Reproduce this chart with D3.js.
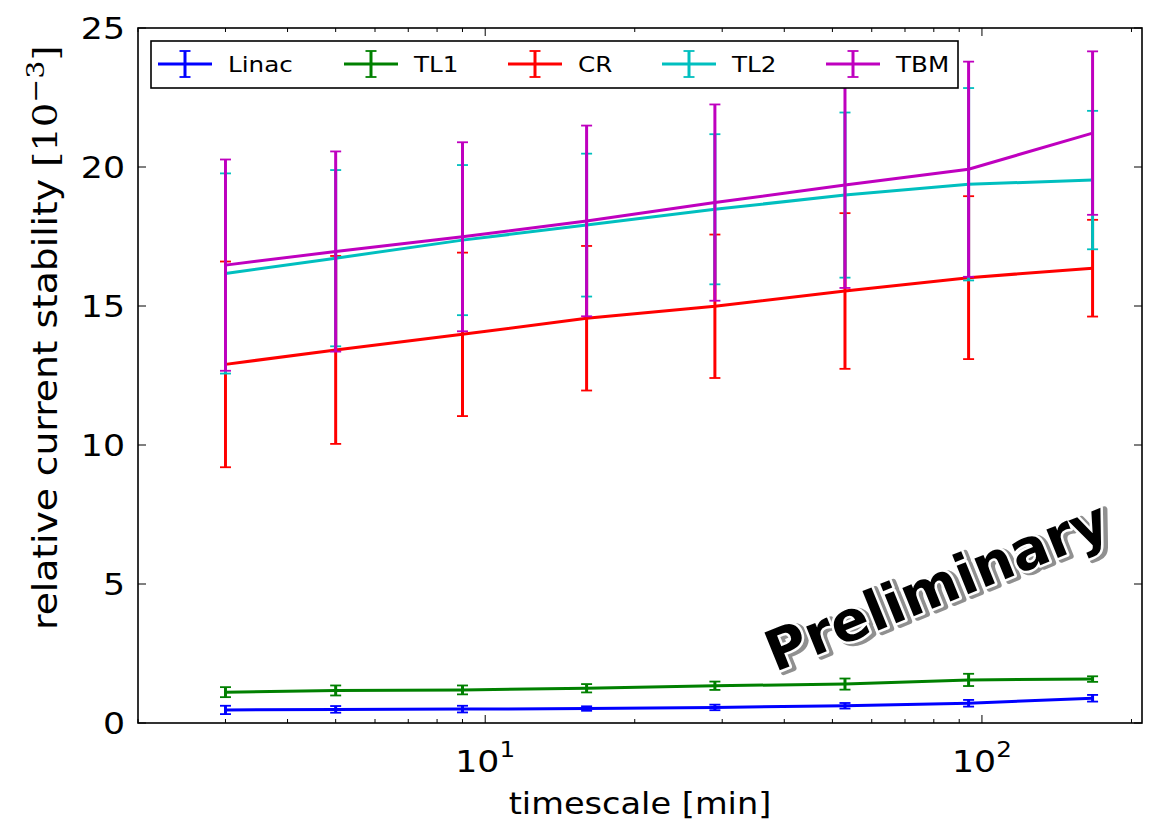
<!DOCTYPE html>
<html lang="en">
<head>
<meta charset="UTF-8">
<title>relative current stability</title>
<script src="https://cdn.jsdelivr.net/npm/d3@7"></script>
<style>
    body { margin: 0; background: #fff; }
    text { font-family: "DejaVu Sans", sans-serif; }
    .tick-label { font-size: 31px; fill: #000; }
    .legend-text { font-size: 22px; }
</style>
</head>
<body>
<script>
    // timescale in minutes
    const timescale = [3, 5, 9, 16, 29, 53, 94, 167];

    const names = ["Linac", "TL1", "CR", "TL2", "TBM"];
    const colors = ["#0000ff", "#008000", "#ff0000", "#00bfbf", "#bf00bf"];

    const linac = [0.47, 0.49, 0.50, 0.52, 0.56, 0.62, 0.71, 0.89];
    const linacErr = [0.15, 0.12, 0.12, 0.08, 0.10, 0.10, 0.12, 0.12];
    const tl1 = [1.11, 1.17, 1.19, 1.25, 1.34, 1.40, 1.55, 1.58];
    const tl1Err = [0.18, 0.18, 0.16, 0.15, 0.15, 0.20, 0.22, 0.10];
    const cr = [12.90, 13.42, 13.98, 14.56, 14.99, 15.54, 16.02, 16.36];
    const crErr = [3.70, 3.38, 2.94, 2.60, 2.58, 2.80, 2.93, 1.74];
    const tl2 = [16.17, 16.72, 17.37, 17.91, 18.48, 18.99, 19.38, 19.53];
    const tl2Err = [3.60, 3.17, 2.70, 2.57, 2.70, 2.97, 3.46, 2.49];
    const tbm = [16.47, 16.96, 17.49, 18.06, 18.72, 19.35, 19.92, 21.22];
    const tbmErr = [3.80, 3.60, 3.40, 3.43, 3.53, 3.70, 3.87, 2.94];

    const yTicks = [0, 5, 10, 15, 20, 25];
    const xMajor = [10, 100];
    const xMinor = [2, 3, 4, 5, 6, 7, 8, 9, 20, 30, 40, 50, 60, 70, 80, 90, 200];

    const values = [linac, tl1, cr, tl2, tbm];
    const errors = [linacErr, tl1Err, crErr, tl2Err, tbmErr];

    const W = 1150, H = 828;
    const pLeft = 138, pRight = 1142, pTop = 28, pBottom = 723;
    const stretch = 1.12;   //原图文字偏宽

    const x = d3.scaleLog().domain([2, 210]).range([pLeft, pRight]);
    const y = d3.scaleLinear().domain([0, 25]).range([pBottom, pTop]);

    const svg = d3.select("body").append("svg")
        .attr("width", W).attr("height", H);

    //数据层
    const plot = svg.append("g");
    const line = d3.line().x((d, i) => x(timescale[i])).y(d => y(d));

    names.forEach(function (name, k) {
        const g = plot.append("g").attr("class", "series");
        const pts = values[k].map((v, i) => ({x: timescale[i], v: v, e: errors[k][i]}));
        g.append("path")
            .attr("d", line(values[k]))
            .attr("fill", "none")
            .attr("stroke", colors[k])
            .attr("stroke-width", 3);
        g.selectAll("line.bar").data(pts).enter().append("line")
            .attr("class", "bar")
            .attr("x1", d => x(d.x)).attr("x2", d => x(d.x))
            .attr("y1", d => y(d.v - d.e)).attr("y2", d => y(d.v + d.e))
            .attr("stroke", colors[k]).attr("stroke-width", 3);
        [-1, 1].forEach(function (s) {
            g.selectAll("line.cap" + (s + 1)).data(pts).enter().append("line")
                .attr("class", "cap" + (s + 1))
                .attr("x1", d => x(d.x) - 5.5).attr("x2", d => x(d.x) + 5.5)
                .attr("y1", d => y(d.v + s * d.e)).attr("y2", d => y(d.v + s * d.e))
                .attr("stroke", colors[k]).attr("stroke-width", 1.8);
        });
    });

    //坐标轴（刻度朝内，四边都有）
    const axes = svg.append("g");
    axes.append("rect")
        .attr("x", pLeft).attr("y", pTop)
        .attr("width", pRight - pLeft).attr("height", pBottom - pTop)
        .attr("fill", "none").attr("stroke", "#000").attr("stroke-width", 1.6);

    yTicks.forEach(function (t) {
        axes.append("line").attr("x1", pLeft).attr("x2", pLeft + 8)
            .attr("y1", y(t)).attr("y2", y(t)).attr("stroke", "#000");
        axes.append("line").attr("x1", pRight).attr("x2", pRight - 8)
            .attr("y1", y(t)).attr("y2", y(t)).attr("stroke", "#000");
        axes.append("g")
            .attr("transform", "translate(" + (pLeft - 13) + "," + (y(t) + 11) + ") scale(" + stretch + ",1)")
            .append("text").attr("class", "tick-label")
            .attr("text-anchor", "end")
            .text(t);
    });

    xMajor.forEach(function (t) {
        axes.append("line").attr("x1", x(t)).attr("x2", x(t))
            .attr("y1", pBottom).attr("y2", pBottom - 8).attr("stroke", "#000");
        axes.append("line").attr("x1", x(t)).attr("x2", x(t))
            .attr("y1", pTop).attr("y2", pTop + 8).attr("stroke", "#000");
        const lab = axes.append("g")
            .attr("transform", "translate(" + x(t) + ",772) scale(" + stretch + ",1)")
            .append("text").attr("class", "tick-label")
            .attr("text-anchor", "middle");
        lab.append("tspan").text("10");
        lab.append("tspan").attr("dy", -15).attr("font-size", 22)
            .text(Math.round(Math.log10(t)));
    });

    xMinor.forEach(function (t) {
        axes.append("line").attr("x1", x(t)).attr("x2", x(t))
            .attr("y1", pBottom).attr("y2", pBottom - 4).attr("stroke", "#000");
        axes.append("line").attr("x1", x(t)).attr("x2", x(t))
            .attr("y1", pTop).attr("y2", pTop + 4).attr("stroke", "#000");
    });

    svg.append("g")
        .attr("transform", "translate(" + ((pLeft + pRight) / 2) + ",814) scale(" + stretch + ",1)")
        .append("text")
        .attr("text-anchor", "middle")
        .attr("font-size", 30)
        .text("timescale [min]");

    const ylab = svg.append("text")
        .attr("transform", "translate(57,630) rotate(-90) scale(1.14,1)")
        .attr("text-anchor", "start")
        .attr("font-size", 33);
    ylab.append("tspan").text("relative current stability ");
    ylab.append("tspan").attr("font-family", "'DejaVu Serif', serif")
        .attr("font-size", 34).text("[10");
    ylab.append("tspan").attr("font-family", "'DejaVu Serif', serif")
        .attr("font-size", 25).attr("dy", -13).text("−3");
    ylab.append("tspan").attr("font-family", "'DejaVu Serif', serif")
        .attr("font-size", 34).attr("dy", 13).text("]");

    //图例
    const legend = svg.append("g");
    legend.append("rect")
        .attr("x", 151).attr("y", 41).attr("width", 807).attr("height", 47)
        .attr("fill", "#fff").attr("stroke", "#000").attr("stroke-width", 1.6);
    const handleX = [158, 344, 508, 662, 826];
    names.forEach(function (name, k) {
        const hx = handleX[k], hy = 64;
        legend.append("line").attr("x1", hx).attr("x2", hx + 54)
            .attr("y1", hy).attr("y2", hy)
            .attr("stroke", colors[k]).attr("stroke-width", 3);
        legend.append("line").attr("x1", hx + 27).attr("x2", hx + 27)
            .attr("y1", hy - 13).attr("y2", hy + 13)
            .attr("stroke", colors[k]).attr("stroke-width", 3);
        [-13, 13].forEach(function (o) {
            legend.append("line").attr("x1", hx + 21.5).attr("x2", hx + 32.5)
                .attr("y1", hy + o).attr("y2", hy + o)
                .attr("stroke", colors[k]).attr("stroke-width", 1.8);
        });
        legend.append("g")
            .attr("transform", "translate(" + (hx + 70) + "," + (hy + 8) + ") scale(" + stretch + ",1)")
            .append("text").attr("class", "legend-text")
            .text(name);
    });

    //Preliminary 水印
    const wm = svg.append("g").attr("transform", "translate(944,604) rotate(-22)");
    wm.append("text")
        .attr("x", 3).attr("y", 3)
        .attr("text-anchor", "middle")
        .attr("font-size", 56).attr("font-weight", "bold")
        .attr("fill", "#909090").attr("stroke", "#909090").attr("stroke-width", 6)
        .attr("stroke-linejoin", "round")
        .text("Preliminary");
    wm.append("text")
        .attr("text-anchor", "middle")
        .attr("font-size", 56).attr("font-weight", "bold")
        .attr("fill", "#000").attr("stroke", "#fff").attr("stroke-width", 5)
        .attr("stroke-linejoin", "round")
        .attr("paint-order", "stroke")
        .text("Preliminary");
</script>
</body>
</html>
